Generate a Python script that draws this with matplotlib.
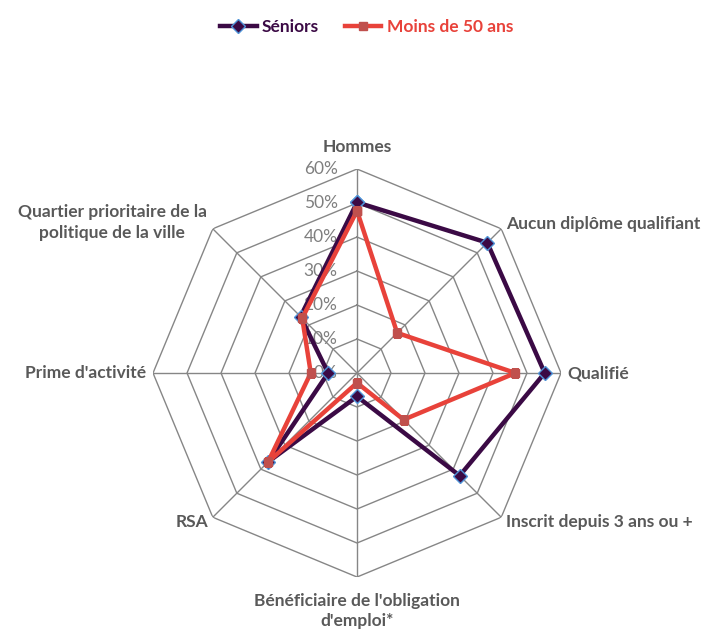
import numpy as np
import matplotlib.pyplot as plt

# Données du graphique radar
categories = ["Hommes", "Aucun diplôme qualifiant", "Qualifié", "Inscrit depuis 3 ans ou +",
              "Bénéficiaire de l'obligation\nd'emploi*", "RSA", "Prime d'activité",
              "Quartier prioritaire de la\npolitique de la ville"]
seniors = [50.2, 54.2, 55.2, 42.7, 6.9, 37.0, 8.5, 23.5]
moins_50 = [47.7, 16.7, 46.6, 19.4, 2.9, 37.0, 13.6, 22.8]
ticks = [0, 10, 20, 30, 40, 50, 60]
tick_labels = ["0%", "10%", "20%", "30%", "40%", "50%", "60%"]

grid_col = '#868686'
text_col = '#595959'
col_sen = '#3B0A45'
col_moins = '#E8423A'

plt.rcParams['font.family'] = ['Lato', 'DejaVu Sans']

fig = plt.figure(figsize=(7.09, 6.30), dpi=100)
ax = fig.add_axes([0.2158, 0.0841, 0.5755, 0.6476], projection='polar')
ax.set_theta_zero_location('N')
ax.set_theta_direction(-1)
ax.set_ylim(0, 60)
ax.grid(False)
ax.spines['polar'].set_visible(False)
ax.set_xticks([])
ax.set_yticks([])
ax.patch.set_alpha(0)

n = len(categories)
angles = np.linspace(0, 2 * np.pi, n, endpoint=False)
closed = np.append(angles, angles[0])

# grille polygonale
for t in ticks[1:]:
    ax.plot(closed, [t] * (n + 1), color=grid_col, lw=1, zorder=1)
for a in angles:
    ax.plot([a, a], [0, 60], color=grid_col, lw=1, zorder=1)

# graduations
for t, lab in zip(ticks, tick_labels):
    ax.annotate(lab, xy=(0, t), xytext=(-14, 0), textcoords='offset points',
                ha='right', va='center', fontsize=12.5, color='#7F7F7F', zorder=2)

# étiquettes des axes
label_pos = [
    (66.5, 'center', 'center'),
    (62, 'left', 'center'),
    (62, 'left', 'center'),
    (62, 'left', 'center'),
    (70, 'center', 'center'),
    (62, 'right', 'center'),
    (62, 'right', 'center'),
    (62.5, 'right', 'center'),
]
for a, lab, (r, ha, va) in zip(angles, categories, label_pos):
    ax.text(a, r, lab, ha=ha, va=va, multialignment='center', fontsize=12.5,
            fontweight='bold', color=text_col, linespacing=1.35)

ax.plot(closed, np.append(seniors, seniors[0]), color=col_sen, lw=3.2,
        marker='D', markersize=7, markerfacecolor=col_sen,
        markeredgecolor='#4F94D8', markeredgewidth=1, label='Séniors', zorder=4)
ax.plot(closed, np.append(moins_50, moins_50[0]), color=col_moins, lw=3.2,
        marker='s', markersize=6, markerfacecolor='#C0504D',
        markeredgecolor='#C0504D', label='Moins de 50 ans', zorder=5)

leg = fig.legend(loc='upper center', bbox_to_anchor=(0.517, 0.995), ncol=2,
                 frameon=False, handlelength=2.1, columnspacing=1.5, handletextpad=0.3,
                 prop={'weight': 'bold', 'size': 12.5})
for txt, c in zip(leg.get_texts(), [col_sen, col_moins]):
    txt.set_color(c)

fig.savefig('out.png', dpi=100)
